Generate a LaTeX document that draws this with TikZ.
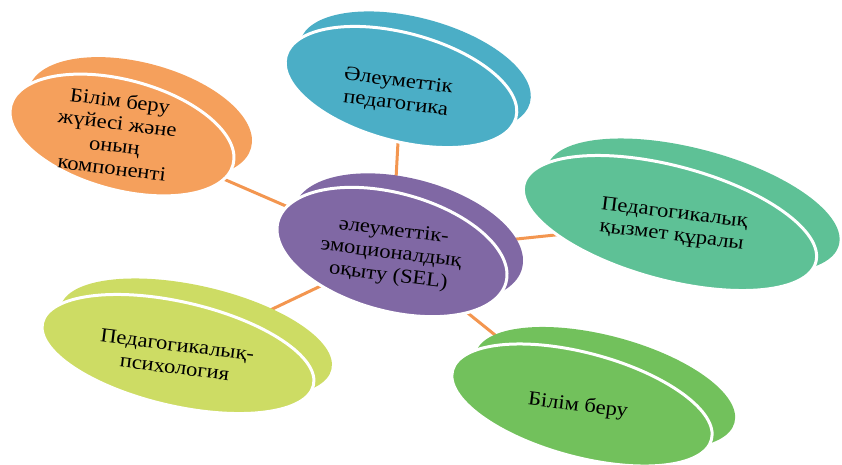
\documentclass[tikz,border=0pt]{standalone}
\usepackage{fontspec}
\setmainfont[FakeStretch=1.13]{Liberation Serif}
\usetikzlibrary{shapes.geometric}
\definecolor{cOrange}{RGB}{245,160,92}
\definecolor{cBlue}{RGB}{75,174,198}
\definecolor{cPurple}{RGB}{128,104,164}
\definecolor{cTeal}{RGB}{94,193,150}
\definecolor{cLime}{RGB}{205,220,100}
\definecolor{cGreen}{RGB}{114,193,92}
\definecolor{cLine}{RGB}{243,150,80}
\tikzset{
  backell/.style={ellipse, inner sep=0pt, draw=none},
  frontell/.style={ellipse, inner sep=0pt, draw=white, line width=3pt},
  lbl/.style={align=center, font=\fontsize{20}{22.5}\selectfont, rotate=-7, text=black, inner sep=0pt},
  link/.style={draw=cLine, line width=3pt}
}
\begin{document}
\begin{tikzpicture}[x=1pt,y=-1pt]
\clip (0,0) rectangle (842,464);
% centres
\coordinate (cO) at (122,135);
\coordinate (cB) at (401,87);
\coordinate (cP) at (392,252);
\coordinate (cT) at (670,223);
\coordinate (cL) at (178,354);
\coordinate (cG) at (582,405);
% connectors
\draw[link] (cP) -- (cO);
\draw[link] (cP) -- (cB);
\draw[link] (cP) -- (cT);
\draw[link] (cP) -- (cL);
\draw[link] (cP) -- (cG);
% orange
\node[backell, fill=cOrange, minimum width=230pt, minimum height=110pt, rotate=-15] (bO) at (140,118) {};
\node[frontell, fill=cOrange, minimum width=230pt, minimum height=110pt, rotate=-15] (fO) at (cO) {};
\node[lbl] (tO) at (116,134) {Білім беру\\жүйесі және\\оның\\компоненті};
% blue
\node[backell, fill=cBlue, minimum width=238pt, minimum height=108pt, rotate=-15] (bB) at (415,72) {};
\node[frontell, fill=cBlue, minimum width=238pt, minimum height=108pt, rotate=-15] (fB) at (cB) {};
\node[lbl] (tB) at (397,93) {Әлеуметтік\\педагогика};
% purple
\node[backell, fill=cPurple, minimum width=236pt, minimum height=118pt, rotate=-15] (bP) at (408,238) {};
\node[frontell, fill=cPurple, minimum width=236pt, minimum height=118pt, rotate=-15] (fP) at (cP) {};
\node[lbl] (tP) at (391,254) {әлеуметтік-\\эмоционалдық\\оқыту (SEL)};
% teal
\node[backell, fill=cTeal, minimum width=302pt, minimum height=114pt, rotate=-15] (bT) at (693,206) {};
\node[frontell, fill=cTeal, minimum width=302pt, minimum height=114pt, rotate=-15] (fT) at (cT) {};
\node[lbl] (tT) at (673,225) {Педагогикалық\\қызмет құралы};
% lime
\node[backell, fill=cLime, minimum width=278pt, minimum height=104pt, rotate=-13] (bL) at (196,338) {};
\node[frontell, fill=cLime, minimum width=278pt, minimum height=104pt, rotate=-13] (fL) at (cL) {};
\node[lbl] (tL) at (176,356) {Педагогикалық-\\психология};
% green
\node[backell, fill=cGreen, minimum width=268pt, minimum height=104pt, rotate=-15] (bG) at (605,388) {};
\node[frontell, fill=cGreen, minimum width=268pt, minimum height=104pt, rotate=-15] (fG) at (cG) {};
\node[lbl] (tG) at (578,406) {Білім беру};
\end{tikzpicture}
\end{document}
